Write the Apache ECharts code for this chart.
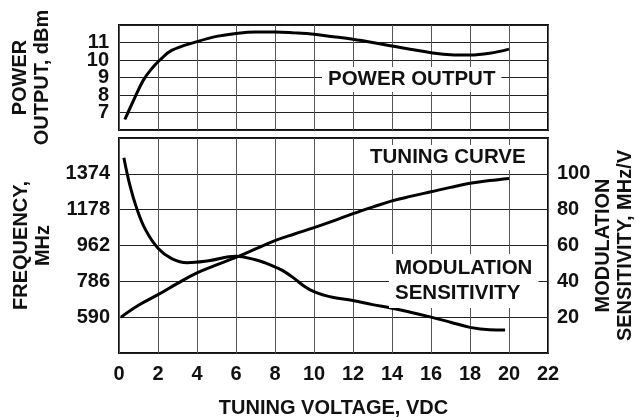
<!DOCTYPE html>
<html>
<head>
<meta charset="utf-8">
<script src="https://cdn.jsdelivr.net/npm/echarts@6/dist/echarts.min.js"></script>
<style>
  html, body { margin: 0; padding: 0; background: #fff; }
  #chart { width: 636px; height: 417px; }
</style>
</head>
<body>
<div id="chart"></div>
<script>
// power output vs tuning voltage (VDC, dBm)
var powerOutput = [
  [0.3, 6.6], [0.75, 7.7], [1.25, 8.85], [1.75, 9.6], [2.1, 10.0], [2.7, 10.55],
  [4, 11.05], [5, 11.35], [6, 11.52], [7, 11.6], [8, 11.6], [9, 11.55], [10, 11.47],
  [11, 11.33], [12, 11.18], [13, 11.0], [14, 10.8], [15, 10.6], [16, 10.42],
  [17, 10.3], [18, 10.28], [19, 10.38], [20, 10.62]
]
// tuning curve (VDC, MHz)
var tuningCurve = [
  [0.1, 590], [1, 655], [2, 713], [3, 775], [4, 832], [5, 876], [6, 917], [7, 963],
  [8, 1009], [9, 1045], [10, 1080], [11, 1117], [12, 1156], [13, 1192], [14, 1226],
  [15, 1252], [16, 1276], [17, 1300], [18, 1322], [19, 1337], [20, 1349]
]
// modulation sensitivity (VDC, MHz/V)
var modSensitivity = [
  [0.25, 109], [0.55, 94], [0.9, 81], [1.35, 69], [2, 58.5], [2.7, 52.7], [3.5, 50.4],
  [4.6, 51.5], [6, 54], [7, 52], [7.5, 50.3], [8, 48], [8.5, 45.3], [9, 41.5],
  [9.5, 37.3], [10, 34.2], [10.5, 32.3], [11, 31], [12, 29.3], [13, 27], [14, 25],
  [15, 22.6], [16, 20], [17, 17.2], [18, 14.3], [19, 13], [19.8, 12.9]
]
// frequency tick labels as printed (evenly spaced on the grid)
var freqTicks = ['590', '786', '962', '1178', '1374']
var freqStep = 196

var font = '"Liberation Sans", Arial, sans-serif'
var txt = { color: '#111', fontFamily: font, fontWeight: 'bold', fontSize: 20 }

var option = {
  animation: false,
  grid: [
    { left: 119, right: 88, top: 25, height: 105, show: true, borderColor: '#111', borderWidth: 2, outerBoundsMode: 'none' },
    { left: 119, right: 88, top: 138, height: 215, show: true, borderColor: '#111', borderWidth: 2, outerBoundsMode: 'none' }
  ],
  xAxis: [
    {
      gridIndex: 0, type: 'value', min: 0, max: 22, interval: 2,
      axisLine: { show: false }, axisTick: { show: false }, axisLabel: { show: false },
      splitLine: { lineStyle: { color: '#555', width: 1 } }
    },
    {
      gridIndex: 1, type: 'value', min: 0, max: 22, interval: 2,
      axisLine: { show: false }, axisTick: { show: false },
      axisLabel: Object.assign({ margin: 11 }, txt),
      splitLine: { lineStyle: { color: '#555', width: 1 } },
      name: 'TUNING VOLTAGE, VDC', nameLocation: 'middle', nameGap: 45, nameMoveOverlap: false,
      nameTextStyle: Object.assign({}, txt)
    }
  ],
  yAxis: [
    {
      gridIndex: 0, type: 'value', min: 6, max: 12, interval: 1,
      axisLine: { show: false }, axisTick: { show: false },
      axisLabel: Object.assign({ margin: 10, showMinLabel: false, showMaxLabel: false, lineHeight: 17 }, txt),
      splitLine: { lineStyle: { color: '#222', width: 1 } },
      name: 'POWER\nOUTPUT, dBm', nameLocation: 'middle', nameRotate: 90, nameGap: 66, nameMoveOverlap: false,
      nameTextStyle: Object.assign({ lineHeight: 22 }, txt)
    },
    {
      gridIndex: 1, type: 'value', min: 590 - freqStep, max: 1374 + freqStep, interval: freqStep,
      axisLine: { show: false }, axisTick: { show: false },
      axisLabel: Object.assign({
        margin: 9,
        formatter: function (v) {
          var i = Math.round((v - 590) / freqStep)
          return freqTicks[i] || ''
        }
      }, txt),
      splitLine: { lineStyle: { color: '#222', width: 1 } },
      name: 'FREQUENCY,\nMHz', nameLocation: 'middle', nameRotate: 90, nameGap: 65, nameMoveOverlap: false,
      nameTextStyle: Object.assign({ lineHeight: 22 }, txt)
    },
    {
      gridIndex: 1, type: 'value', position: 'right', min: 0, max: 120, interval: 20,
      axisLine: { show: false }, axisTick: { show: false },
      axisLabel: Object.assign({ margin: 9, showMinLabel: false, showMaxLabel: false }, txt),
      splitLine: { show: false },
      name: 'MODULATION\nSENSITIVITY, MHz/V', nameLocation: 'middle', nameRotate: 90, nameGap: 44, nameMoveOverlap: false,
      nameTextStyle: Object.assign({ lineHeight: 22 }, txt)
    }
  ],
  series: [
    {
      name: 'POWER OUTPUT', type: 'line', xAxisIndex: 0, yAxisIndex: 0,
      data: powerOutput, smooth: 0.4, showSymbol: false,
      lineStyle: { color: '#000', width: 3 }
    },
    {
      name: 'TUNING CURVE', type: 'line', xAxisIndex: 1, yAxisIndex: 1,
      data: tuningCurve, smooth: 0.4, showSymbol: false,
      lineStyle: { color: '#000', width: 3 }
    },
    {
      name: 'MODULATION SENSITIVITY', type: 'line', xAxisIndex: 1, yAxisIndex: 2,
      data: modSensitivity, smooth: 0.4, showSymbol: false,
      lineStyle: { color: '#000', width: 3 }
    }
  ],
  graphic: [
    {
      type: 'text', left: 322, top: 67, z: 100,
      style: { text: 'POWER OUTPUT', font: 'bold 20.5px ' + font, fill: '#111', backgroundColor: '#fff', padding: [2, 6] }
    },
    {
      type: 'text', left: 366, top: 145, z: 100,
      style: { text: 'TUNING CURVE', font: 'bold 20.5px ' + font, fill: '#111', backgroundColor: '#fff', padding: [2, 4] }
    },
    {
      type: 'text', left: 389, top: 254, z: 100,
      style: { text: 'MODULATION\nSENSITIVITY', font: 'bold 20.5px ' + font, fill: '#111', align: 'center',
        lineHeight: 25, backgroundColor: '#fff', padding: [2, 6] }
    }
  ]
}

var myChart = echarts.init(document.getElementById('chart'))
myChart.setOption(option)
</script>
</body>
</html>
